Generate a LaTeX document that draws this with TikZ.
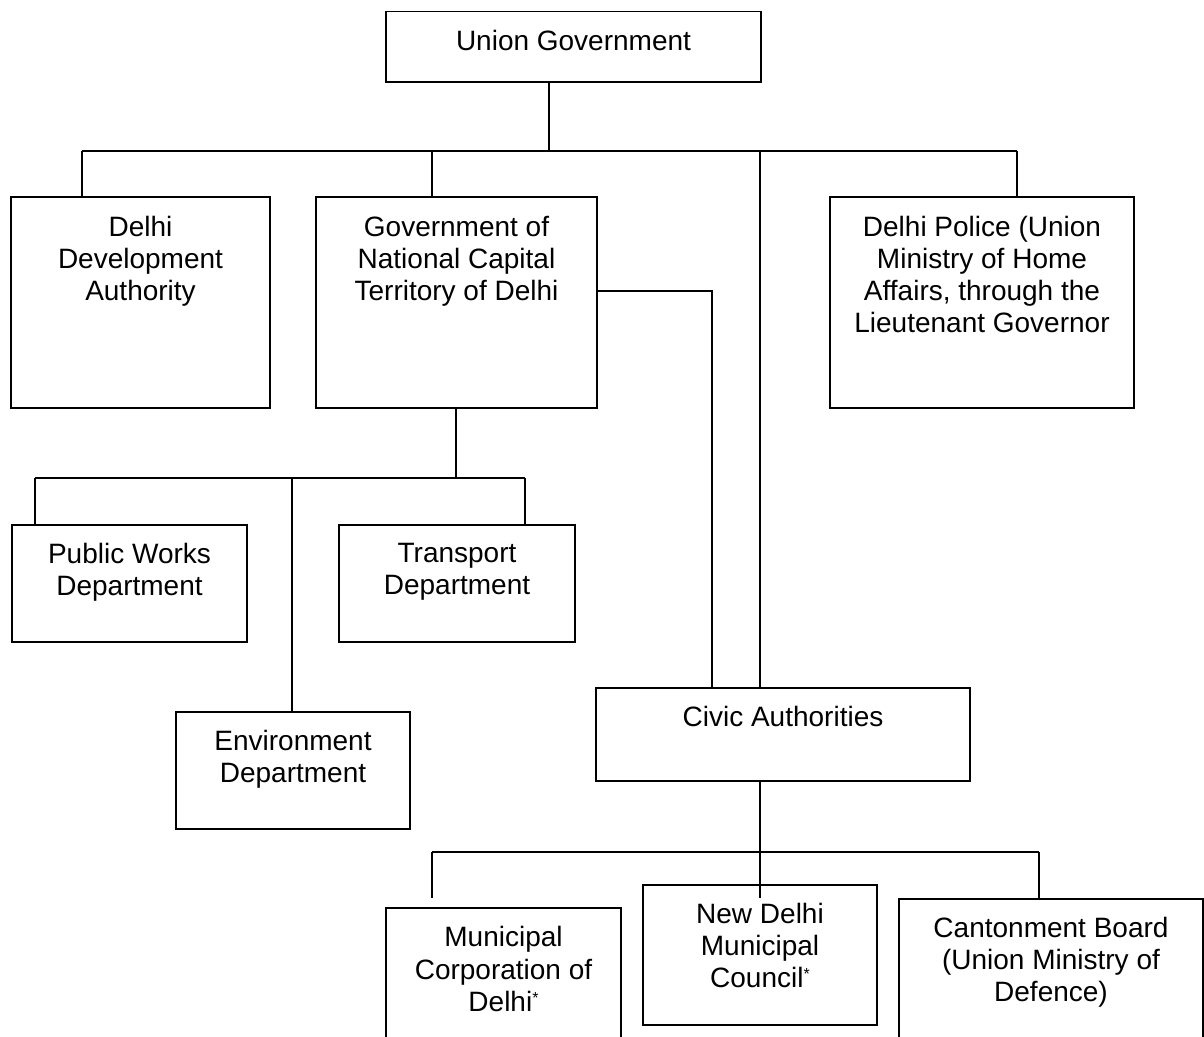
\documentclass[tikz,border=0pt]{standalone}
\usepackage{fontspec}
\setmainfont{Liberation Sans}
\newcommand{\astsup}{\raisebox{8pt}{\fontsize{16}{16}\selectfont *}}
\begin{document}
\begin{tikzpicture}[x=1pt,y=-1pt,
  box/.style={draw, line width=1.7pt, rectangle, inner sep=0pt, outer sep=0pt, anchor=north west},
  lbl/.style={font=\fontsize{28}{32.2}\selectfont, align=center, inner sep=0pt, outer sep=0pt, anchor=north},
  conn/.style={line width=1.7pt}]
\useasboundingbox (0,0) rectangle (1204,1036);
\clip (0,0) rectangle (1204,1036);
\fill[white] (0,0) rectangle (1204,1036);

% boxes
\node[box, minimum width=375pt, minimum height=70.5pt] (ug) at (386,11.5) {};
\node[box, minimum width=259pt, minimum height=211pt] (dda) at (11,197) {};
\node[box, minimum width=281pt, minimum height=211pt] (gov) at (316,197) {};
\node[box, minimum width=304pt, minimum height=211pt] (dp) at (830,197) {};
\node[box, minimum width=235pt, minimum height=117pt] (pwd) at (12,525) {};
\node[box, minimum width=236pt, minimum height=117pt] (td) at (339,525) {};
\node[box, minimum width=234pt, minimum height=117pt] (ed) at (176,712) {};
\node[box, minimum width=374pt, minimum height=93pt] (civ) at (596,688) {};
\node[box, minimum width=235pt, minimum height=160pt] (mcd) at (386,908) {};
\node[box, minimum width=234pt, minimum height=140pt] (ndmc) at (643,885) {};
\node[box, minimum width=304pt, minimum height=160pt] (cb) at (899,899) {};

% labels
\node[lbl] (ugT) at ([yshift=-18.5pt]ug.north) {Union Government};
\node[lbl] (ddaT) at ([yshift=-19pt]dda.north) {Delhi\\Development\\Authority};
\node[lbl] (govT) at ([yshift=-19pt]gov.north) {Government of\\National Capital\\Territory of Delhi};
\node[lbl] (dpT) at ([yshift=-19pt]dp.north) {Delhi Police (Union\\Ministry of Home\\Affairs, through the\\Lieutenant Governor};
\node[lbl] (pwdT) at ([yshift=-18pt]pwd.north) {Public Works\\Department};
\node[lbl] (tdT) at ([yshift=-18pt]td.north) {Transport\\Department};
\node[lbl] (edT) at ([yshift=-18pt]ed.north) {Environment\\Department};
\node[lbl] (civT) at ([yshift=-18pt]civ.north) {Civic Authorities};
\node[lbl] (mcdT) at ([yshift=-18.5pt]mcd.north) {Municipal\\Corporation of\\Delhi\astsup};
\node[lbl] (ndmcT) at ([yshift=-18pt]ndmc.north) {New Delhi\\Municipal\\Council\astsup};
\node[lbl] (cbT) at ([yshift=-18pt]cb.north) {Cantonment Board\\(Union Ministry of\\Defence)};

% junction coordinates
\coordinate (j0) at (549,151);
\coordinate (cDDA) at (82,151);
\coordinate (cG) at (432,151);
\coordinate (cC) at (760,151);
\coordinate (cP) at (1017,151);
\coordinate (cS) at (712,291);
\coordinate (dB) at (456,478);
\coordinate (dPWD) at (35,478);
\coordinate (dEnv) at (292,478);
\coordinate (dTD) at (525,478);
\coordinate (eC) at (760,852);
\coordinate (eEnd) at (760,898);
\coordinate (eM) at (432,852);
\coordinate (eMend) at (432,898);
\coordinate (eB) at (1039,852);

% top level
\draw[conn] (ug.south -| j0) -- (j0);
\draw[conn] (cDDA) -- (cP);
\draw[conn] (cDDA) -- (cDDA |- dda.north);
\draw[conn] (cG) -- (cG |- gov.north);
\draw[conn] (cC) -- (cC |- civ.north);
\draw[conn] (cP) -- (cP |- dp.north);
\draw[conn] (gov.east |- cS) -- (cS) -- (cS |- civ.north);

% departments
\draw[conn] (gov.south -| dB) -- (dB);
\draw[conn] (dPWD) -- (dTD);
\draw[conn] (dPWD) -- (dPWD |- pwd.north);
\draw[conn] (dEnv) -- (dEnv |- ed.north);
\draw[conn] (dTD) -- (dTD |- td.north);

% civic authorities
\draw[conn] (civ.south -| eEnd) -- (eEnd);
\draw[conn] (eM) -- (eB);
\draw[conn] (eM) -- (eMend);
\draw[conn] (eB) -- (eB |- cb.north);
\end{tikzpicture}
\end{document}
